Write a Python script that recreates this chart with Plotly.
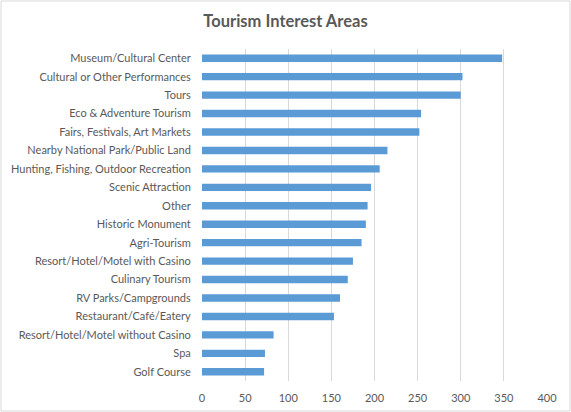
import plotly.graph_objects as go

categories = [
    "Museum/Cultural Center",
    "Cultural or Other Performances",
    "Tours",
    "Eco & Adventure Tourism",
    "Fairs, Festivals, Art Markets",
    "Nearby National Park/Public Land",
    "Hunting, Fishing, Outdoor Recreation",
    "Scenic Attraction",
    "Other",
    "Historic Monument",
    "Agri-Tourism",
    "Resort/Hotel/Motel with Casino",
    "Culinary Tourism",
    "RV Parks/Campgrounds",
    "Restaurant/Café/Eatery",
    "Resort/Hotel/Motel without Casino",
    "Spa",
    "Golf Course",
]
counts = [348, 302, 300, 254, 252, 215, 206, 196, 192,
          190, 185, 175, 169, 160, 153, 83, 73, 72]
x_ticks = [0, 50, 100, 150, 200, 250, 300, 350, 400]

W, H = 571, 412
L, R, T, B = 202, 24, 49, 31
pw = W - L - R
ph = H - T - B

fig = go.Figure()
fig.add_trace(go.Bar(x=counts, y=categories, orientation='h',
                     width=0.4, marker=dict(color='#5b9bd5', line_width=0)))

fig.update_layout(
    width=W, height=H,
    margin=dict(l=L, r=R, t=T, b=B),
    paper_bgcolor='white', plot_bgcolor='white',
    font=dict(family="Lato, Carlito, sans-serif", size=11, color='#595959'),
    title=dict(text="<b>Tourism Interest Areas</b>", x=0.5, xref='container',
               xanchor='center', y=1 - 21 / H, yref='container',
               yanchor='middle', font=dict(size=16.5, color='#595959')),
    showlegend=False,
)
fig.update_xaxes(range=[0, 400], tickvals=x_ticks, showgrid=True,
                 gridcolor='#d9d9d9', gridwidth=1, zeroline=False,
                 showline=False, ticks='outside', ticklen=7,
                 tickcolor='rgba(0,0,0,0)', fixedrange=True,
                 automargin=False)
fig.update_yaxes(autorange='reversed', showgrid=False, zeroline=False,
                 showline=False, ticks='outside', ticklen=8,
                 tickcolor='rgba(0,0,0,0)', fixedrange=True,
                 automargin=False)

# light outer border like the spreadsheet chart frame
fig.add_shape(type='rect', xref='paper', yref='paper',
              x0=-(L - 1) / pw, x1=1 + (R - 1) / pw,
              y0=-(B - 1) / ph, y1=1 + (T - 1) / ph,
              line=dict(color='#d9d9d9', width=1))

fig.write_html("out.html", config={'displayModeBar': False},
               post_script="document.body.style.margin='0';")
